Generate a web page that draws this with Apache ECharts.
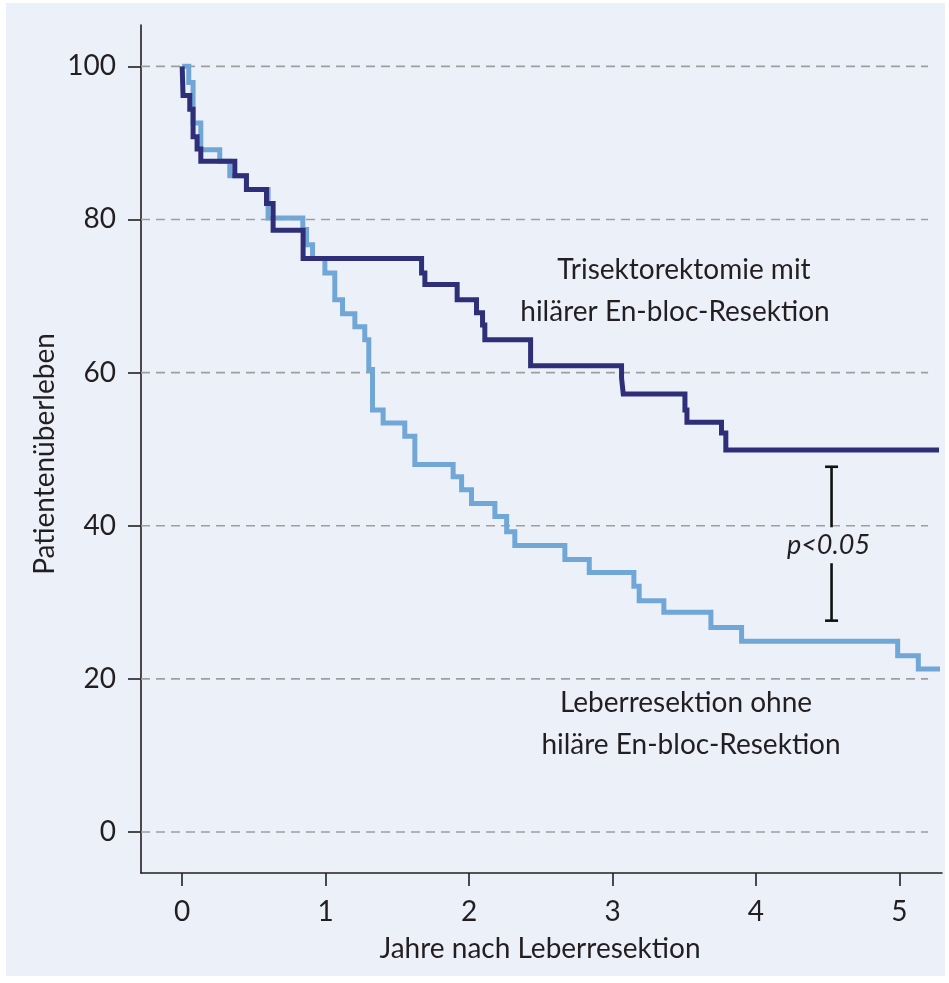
<!DOCTYPE html>
<html>
<head>
<meta charset="utf-8">
<script src="https://cdn.jsdelivr.net/npm/echarts@6/dist/echarts.min.js"></script>
<style>
  html, body { margin: 0; padding: 0; background: #ffffff; }
  #panel { position: absolute; left: 6px; top: 3px; width: 939px; height: 973px; background: #ecf0f9; }
  #chart { position: absolute; left: 0; top: 0; width: 949px; height: 983px; }
</style>
</head>
<body>
<div id="panel"></div>
<div id="chart"></div>
<script>
// ---- data (years after resection, survival %) ----
const xTicks = [0, 1, 2, 3, 4, 5];
const yTicks = [0, 20, 40, 60, 80, 100];

const trisektorT = [0, 0.006, 0.053, 0.076, 0.104, 0.130, 0.367, 0.448, 0.588, 0.634, 0.843, 1.669, 1.692, 1.917, 2.052, 2.094, 2.110, 2.429, 3.063, 3.075, 3.505, 3.519, 3.76, 3.79, 5.276];
const trisektorS = [100, 96.2, 94.4, 90.8, 89.2, 87.6, 85.7, 83.9, 82.1, 78.6, 74.9, 73.0, 71.5, 69.5, 67.8, 66.2, 64.3, 60.9, 59.3, 57.2, 55.1, 53.5, 52.1, 49.9, 49.9];

const ohneT = [0, 0.046, 0.076, 0.130, 0.262, 0.332, 0.448, 0.599, 0.841, 0.867, 0.909, 0.995, 1.064, 1.118, 1.204, 1.273, 1.301, 1.327, 1.401, 1.552, 1.622, 1.889, 1.948, 2.017, 2.180, 2.262, 2.319, 2.668, 2.838, 3.149, 3.186, 3.358, 3.686, 3.900, 4.988, 5.132, 5.283];
const ohneS = [100, 97.9, 92.6, 89.1, 87.6, 85.7, 83.9, 80.2, 78.7, 76.7, 74.9, 73.0, 69.5, 67.7, 66.0, 64.3, 60.4, 55.1, 53.4, 51.7, 48.0, 46.4, 44.7, 42.9, 41.2, 39.2, 37.4, 35.6, 33.9, 32.1, 30.2, 28.7, 26.7, 24.9, 23.0, 21.3, 21.3];

// significance bracket (in data units)
const bracketX = 4.527;
const bracketTop = 47.7;
const bracketBottom = 27.6;
const bracketGapTop = 39.8;
const bracketGapBottom = 35.1;
const pLabel = 'p<0.05';

// ---- layout / style ----
const X_MIN = -0.287, X_MAX = 5.297, Y_MIN = -5.36, Y_MAX = 105.4;
const GRID_END = 5.2;
const FONT = 'Lato';
const INK = '#231f20';
const DARK = '#2e2f78';
const LIGHT = '#70a7d7';

const zip = (a, b) => a.map((v, i) => [v, b[i]]);

const chart = echarts.init(document.getElementById('chart'), null, { renderer: 'canvas' });

const gridSeries = yTicks.map(v => ({
  type: 'line',
  data: [[X_MIN, v], [GRID_END, v]],
  symbol: 'none',
  silent: true,
  z: 1,
  lineStyle: { color: '#9e9e9e', width: 1.6, type: [9, 6] }
}));

const axisCommon = {
  axisLine: { show: true, onZero: false, lineStyle: { color: INK, width: 1.6 } },
  axisTick: { show: true, inside: false, length: 13, lineStyle: { color: INK, width: 1.6 } },
  splitLine: { show: false }
};

chart.setOption({
  backgroundColor: 'transparent',
  animation: false,
  grid: { left: 141, right: 7, top: 25, bottom: 110, containLabel: false, outerBoundsMode: 'none' },
  xAxis: Object.assign({
    type: 'value', min: X_MIN, max: X_MAX,
    axisLabel: { customValues: xTicks, margin: 25, fontFamily: FONT, fontSize: 28, color: INK },
  }, axisCommon, {
    axisTick: Object.assign({}, axisCommon.axisTick, { customValues: xTicks })
  }),
  yAxis: Object.assign({
    type: 'value', min: Y_MIN, max: Y_MAX,
    axisLabel: { customValues: yTicks, margin: 25, fontFamily: FONT, fontSize: 28, color: INK },
  }, axisCommon, {
    axisTick: Object.assign({}, axisCommon.axisTick, { customValues: yTicks })
  }),
  series: gridSeries.concat([
    {
      name: 'Leberresektion ohne hiläre En-bloc-Resektion',
      type: 'line', step: 'end', symbol: 'none', z: 3,
      data: zip(ohneT, ohneS),
      lineStyle: { color: LIGHT, width: 5, join: 'miter', cap: 'butt' }
    },
    {
      name: 'Trisektorektomie mit hilärer En-bloc-Resektion',
      type: 'line', step: 'end', symbol: 'none', z: 4,
      data: zip(trisektorT, trisektorS),
      lineStyle: { color: DARK, width: 5, join: 'miter', cap: 'butt' }
    }
  ])
});

const px = (t, s) => chart.convertToPixel({ gridIndex: 0 }, [t, s]);
const bTop = px(bracketX, bracketTop);
const bGapT = px(bracketX, bracketGapTop);
const bGapB = px(bracketX, bracketGapBottom);
const bBot = px(bracketX, bracketBottom);
const capHalf = 6.5;
const bStyle = { stroke: '#111', lineWidth: 2.6 };
const textStyle = (txt, x, y, extra) => ({
  type: 'text', x: x, y: y, z: 20,
  style: Object.assign({ text: txt, fontFamily: FONT, fontSize: 28, fill: INK, align: 'center', verticalAlign: 'middle' }, extra || {})
});

chart.setOption({
  graphic: [
    { type: 'line', z: 20, shape: { x1: bTop[0] - capHalf, y1: bTop[1], x2: bTop[0] + capHalf, y2: bTop[1] }, style: bStyle },
    { type: 'line', z: 20, shape: { x1: bTop[0], y1: bTop[1], x2: bGapT[0], y2: bGapT[1] }, style: bStyle },
    { type: 'line', z: 20, shape: { x1: bGapB[0], y1: bGapB[1], x2: bBot[0], y2: bBot[1] }, style: bStyle },
    { type: 'line', z: 20, shape: { x1: bBot[0] - capHalf, y1: bBot[1], x2: bBot[0] + capHalf, y2: bBot[1] }, style: bStyle },
    textStyle(pLabel, bTop[0] - 3, (bGapT[1] + bGapB[1]) / 2, { fontStyle: 'italic', fontSize: 27 }),
    textStyle('Trisektorektomie mit', 684, 270),
    textStyle('hilärer En-bloc-Resektion', 675, 312),
    textStyle('Leberresektion ohne', 686, 703),
    textStyle('hiläre En-bloc-Resektion', 691, 745),
    textStyle('Jahre nach Leberresektion', 540, 949),
    { type: 'text', x: 45, y: 454, rotation: Math.PI / 2, z: 20,
      style: { text: 'Patientenüberleben', fontFamily: FONT, fontSize: 28, fill: INK, align: 'center', verticalAlign: 'middle' } }
  ]
});
</script>
</body>
</html>
